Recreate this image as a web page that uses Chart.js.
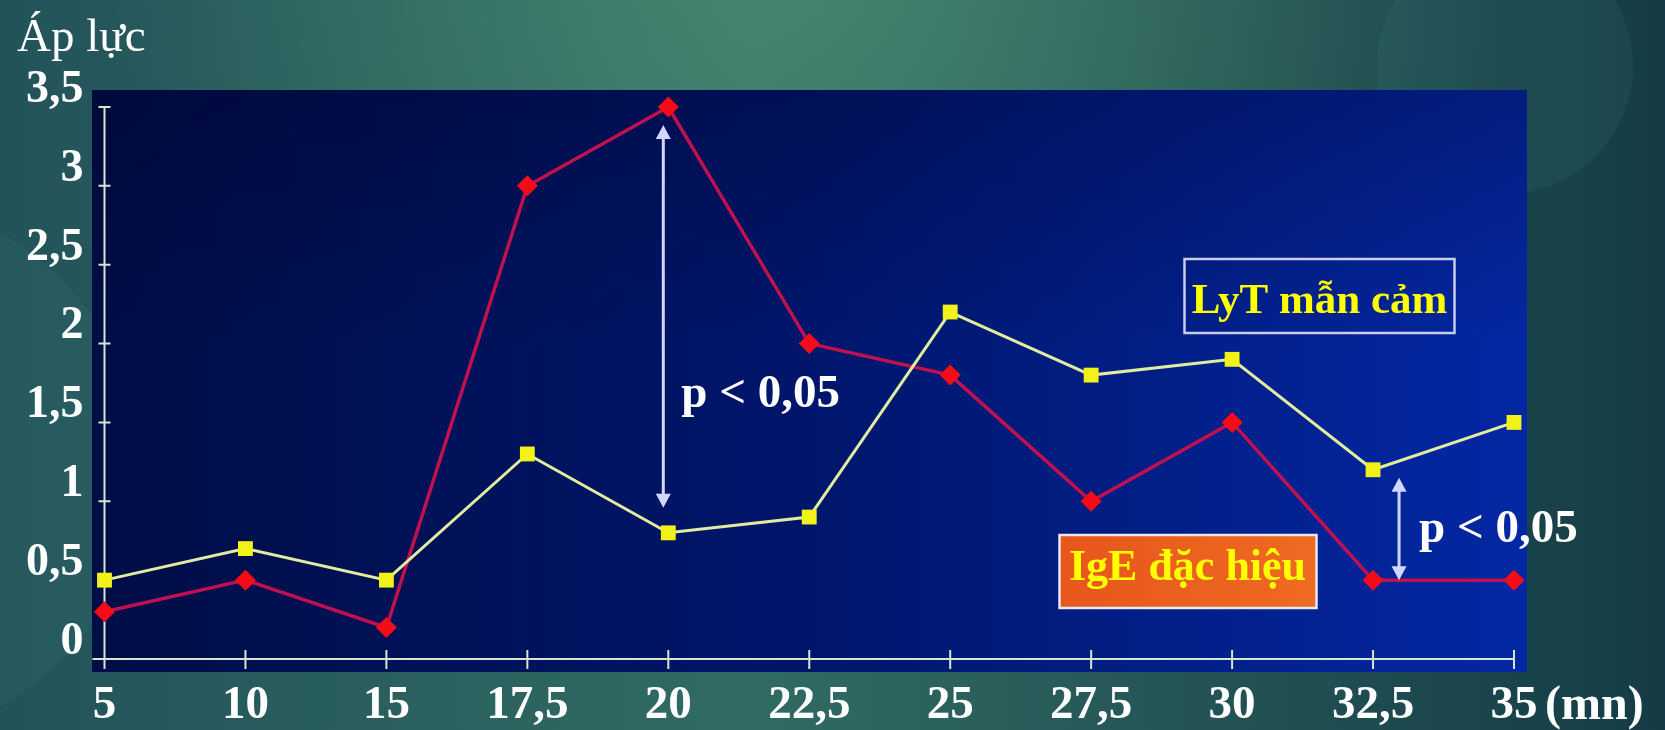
<!DOCTYPE html>
<html>
<head>
  <meta charset="utf-8">
  <style>
    body {
        margin: 0;
        background: #1d4b50;
    }
    canvas {
        display: block;
    }
  </style>
</head>
<body>
  <canvas id="pressureChart" width="1665" height="730"></canvas>

  <script src="https://cdn.jsdelivr.net/npm/chart.js"></script>
  <script>
    // thoi diem do (phut) va nhan truc
    const timeLabels = ['5', '10', '15', '17,5', '20', '22,5', '25', '27,5', '30', '32,5', '35'];
    const pressureTicks = ['0', '0,5', '1', '1,5', '2', '2,5', '3', '3,5'];

    // ap luc theo tung nhom
    const lytValues = [0.5, 0.7, 0.5, 1.3, 0.8, 0.9, 2.2, 1.8, 1.9, 1.2, 1.5];
    const igeValues = [0.3, 0.5, 0.2, 3.0, 3.5, 2.0, 1.8, 1.0, 1.5, 0.5, 0.5];

    // cac moc co y nghia thong ke (chi so cot)
    const sigPoints = [4, 9];
    const sigText = 'p < 0,05';

    const serif = '"Liberation Serif", "Times New Roman", serif';
    const axisColor = '#d6e6cf';

    const slideBackdrop = {
        id: 'slideBackdrop',
        beforeDraw(chart) {
            const { ctx, chartArea: a, width, height } = chart;
            ctx.save();

            let g = ctx.createLinearGradient(0, 0, width, 0);
            g.addColorStop(0, '#225359');
            g.addColorStop(0.45, '#316b63');
            g.addColorStop(1, '#153c46');
            ctx.fillStyle = g;
            ctx.fillRect(0, 0, width, height);

            let r = ctx.createRadialGradient(800, -80, 0, 800, -80, 700);
            r.addColorStop(0, 'rgba(95,165,128,0.5)');
            r.addColorStop(1, 'rgba(95,165,128,0)');
            ctx.fillStyle = r;
            ctx.fillRect(0, 0, width, height);

            // faint decorative circles
            ctx.fillStyle = 'rgba(70,140,140,0.12)';
            ctx.beginPath();
            ctx.arc(1505, 66, 128, 0, Math.PI * 2);
            ctx.fill();
            ctx.beginPath();
            ctx.arc(-130, 470, 270, 0, Math.PI * 2);
            ctx.fill();

            // plot panel
            const px0 = a.left - 12.5, py0 = a.top - 17;
            const px1 = a.right + 13, py1 = a.bottom + 13;
            let pg = ctx.createLinearGradient(px0, 0, px1, 0);
            pg.addColorStop(0, '#000d46');
            pg.addColorStop(0.5, '#00166c');
            pg.addColorStop(1, '#0428a4');
            ctx.fillStyle = pg;
            ctx.fillRect(px0, py0, px1 - px0, py1 - py0);
            let vg = ctx.createLinearGradient(0, py0, 0, py1);
            vg.addColorStop(0, 'rgba(0,0,30,0.28)');
            vg.addColorStop(0.45, 'rgba(0,0,30,0)');
            ctx.fillStyle = vg;
            ctx.fillRect(px0, py0, px1 - px0, py1 - py0);

            ctx.restore();
        }
    };

    // axis lines with ticks crossing both sides
    const axisCrosses = {
        id: 'axisCrosses',
        beforeDatasetsDraw(chart) {
            const { ctx, chartArea: a, scales: { x, y } } = chart;
            ctx.save();
            ctx.strokeStyle = axisColor;
            ctx.lineWidth = 2;
            ctx.beginPath();
            ctx.moveTo(a.left, a.top);
            ctx.lineTo(a.left, a.bottom + 5);
            ctx.moveTo(a.left - 12, a.bottom);
            ctx.lineTo(a.right, a.bottom);
            y.ticks.forEach((t, i) => {
                const py = y.getPixelForTick(i);
                ctx.moveTo(a.left - 6, py);
                ctx.lineTo(a.left + 6, py);
            });
            x.ticks.forEach((t, i) => {
                const px = x.getPixelForTick(i);
                ctx.moveTo(px, a.bottom - 9);
                ctx.lineTo(px, a.bottom + 10);
            });
            ctx.stroke();
            ctx.restore();
        }
    };

    function drawArrow(ctx, px, yTop, yBottom) {
        const head = 14, half = 7.5;
        ctx.beginPath();
        ctx.moveTo(px, yTop + head - 1);
        ctx.lineTo(px, yBottom - head + 1);
        ctx.stroke();
        ctx.beginPath();
        ctx.moveTo(px, yTop);
        ctx.lineTo(px - half, yTop + head);
        ctx.lineTo(px + half, yTop + head);
        ctx.closePath();
        ctx.moveTo(px, yBottom);
        ctx.lineTo(px - half, yBottom - head);
        ctx.lineTo(px + half, yBottom - head);
        ctx.closePath();
        ctx.fill();
    }

    const annotations = {
        id: 'annotations',
        afterDraw(chart) {
            const { ctx, chartArea: a, scales: { x, y } } = chart;
            ctx.save();

            // y axis title
            ctx.fillStyle = '#ffffff';
            ctx.font = '47px ' + serif;
            ctx.textAlign = 'left';
            ctx.textBaseline = 'alphabetic';
            ctx.fillText('Áp lực', 17, 51);

            // unit after the last time label
            const items = x.getLabelItems();
            const last = items[items.length - 1];
            ctx.font = 'bold 48px ' + serif;
            ctx.textBaseline = last.options.textBaseline;
            ctx.fillText('(mn)', x.getPixelForTick(timeLabels.length - 1) + 31,
                last.options.translation[1] + last.textOffset);

            // significance arrows between the two groups
            ctx.strokeStyle = '#d2d6ff';
            ctx.fillStyle = '#d2d6ff';
            ctx.lineWidth = 3;
            const i1 = sigPoints[0], i2 = sigPoints[1];
            const ax1 = x.getPixelForTick(i1) - 5;
            drawArrow(ctx, ax1, y.getPixelForValue(igeValues[i1]) + 18, y.getPixelForValue(lytValues[i1]) - 25);
            const ax2 = x.getPixelForTick(i2) + 26;
            drawArrow(ctx, ax2, y.getPixelForValue(lytValues[i2]) + 8, y.getPixelForValue(igeValues[i2]));

            ctx.fillStyle = '#ffffff';
            ctx.font = 'bold 47px ' + serif;
            ctx.textBaseline = 'alphabetic';
            ctx.textAlign = 'left';
            ctx.fillText(sigText, ax1 + 18, y.getPixelForValue(1.6));
            ctx.fillText(sigText, ax2 + 20, y.getPixelForValue(0.74));

            // series name boxes
            ctx.lineWidth = 2.5;
            ctx.strokeStyle = '#c9cde8';
            ctx.strokeRect(a.left + 1080, 259, 270, 74);
            let og = ctx.createLinearGradient(a.left + 955, 0, a.left + 1212, 0);
            og.addColorStop(0, '#e8561c');
            og.addColorStop(1, '#ee6a22');
            ctx.fillStyle = og;
            ctx.fillRect(a.left + 955, 535, 257, 73);
            ctx.strokeStyle = '#e8e8f0';
            ctx.strokeRect(a.left + 955, 535, 257, 73);

            ctx.fillStyle = '#ffff00';
            ctx.textAlign = 'center';
            ctx.font = 'bold 43px ' + serif;
            ctx.fillText('LyT mẫn cảm', a.left + 1215, 313);
            ctx.font = 'bold 44px ' + serif;
            ctx.fillText('IgE đặc hiệu', a.left + 1083, 580);

            ctx.restore();
        }
    };

    new Chart(document.getElementById('pressureChart'), {
        type: 'line',
        data: {
            labels: timeLabels,
            datasets: [
                {
                    label: 'LyT mẫn cảm',
                    data: lytValues,
                    borderColor: '#e2eca0',
                    borderWidth: 3,
                    pointStyle: 'rect',
                    pointRadius: 10.5,
                    pointBackgroundColor: '#f2f218',
                    pointBorderColor: '#f2f218',
                    pointBorderWidth: 0,
                    tension: 0,
                    clip: false,
                    order: 0
                },
                {
                    label: 'IgE đặc hiệu',
                    data: igeValues,
                    borderColor: '#bf114e',
                    borderWidth: 3.5,
                    pointStyle: 'rectRot',
                    pointRadius: 10.5,
                    pointBackgroundColor: '#f50c18',
                    pointBorderColor: '#f50c18',
                    pointBorderWidth: 0,
                    tension: 0,
                    clip: false,
                    order: 1
                }
            ]
        },
        options: {
            responsive: false,
            animation: false,
            devicePixelRatio: 1,
            layout: {
                padding: { top: 107, right: 151, left: 0, bottom: 0 }
            },
            plugins: {
                legend: { display: false },
                tooltip: { enabled: false }
            },
            scales: {
                x: {
                    offset: false,
                    grid: { display: false, drawTicks: false },
                    border: { display: false },
                    ticks: {
                        color: '#ffffff',
                        font: { family: serif, size: 47, weight: 'bold' },
                        padding: 19,
                        autoSkip: false,
                        maxRotation: 0
                    },
                    afterFit(scale) { scale.height = 71; }
                },
                y: {
                    min: 0,
                    max: 3.5,
                    grid: { display: false, drawTicks: false },
                    border: { display: false },
                    ticks: {
                        stepSize: 0.5,
                        color: '#ffffff',
                        font: { family: serif, size: 46, weight: 'bold' },
                        padding: 21,
                        labelOffset: -17,
                        callback: (v, i) => pressureTicks[i]
                    },
                    afterFit(scale) { scale.width = 104.5; }
                }
            }
        },
        plugins: [slideBackdrop, axisCrosses, annotations]
    });
  </script>
</body>
</html>
